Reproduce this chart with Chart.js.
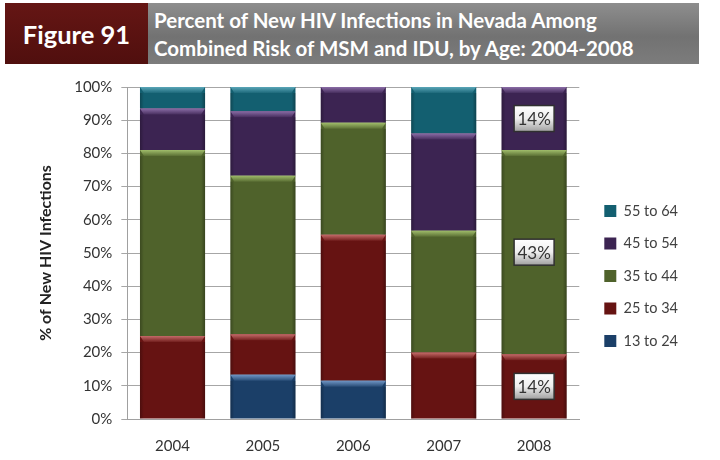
<!DOCTYPE html>
<html>
<head>
<meta charset="utf-8">
<script src="https://cdn.jsdelivr.net/npm/chart.js@4.4.1/dist/chart.umd.min.js"></script>
<style>
  html, body { margin: 0; padding: 0; background: #fff; overflow: hidden; }
  #wrap { position: relative; width: 720px; height: 460px; font-family: Lato, "Open Sans", sans-serif; }
  #fig { position: absolute; left: 5px; top: 3px; width: 143px; height: 61px; background: linear-gradient(#651614, #500f0e);
         color: #fff; font-weight: bold; font-size: 25.5px; line-height: 62px; text-align: center; }
  #ttl { position: absolute; left: 148px; top: 3px; width: 551px; height: 61px; background: linear-gradient(#8e8e8e, #727272 55%, #7c7c7c);
         color: #fff; font-weight: bold; font-size: 20.5px; line-height: 28px; padding: 3px 0 0 6px; box-sizing: border-box; }
  canvas { position: absolute; left: 0; top: 0; }
</style>
</head>
<body>
<div id="wrap">
  <div id="fig">Figure 91</div>
  <div id="ttl">Percent of New HIV Infections in Nevada Among<br>Combined Risk of MSM and IDU, by Age: 2004-2008</div>
  <canvas id="myChart" width="720" height="460"></canvas>
</div>
<script>
const years = ['2004', '2005', '2006', '2007', '2008'];

const age13to24 = [0, 13.3, 11.5, 0, 0];
const age25to34 = [25, 12.2, 44, 20, 19.5];
const age35to44 = [56, 47.8, 33.7, 36.7, 61.5];
const age45to54 = [12.5, 19.4, 10.8, 29.3, 19];
const age55to64 = [6.5, 7.3, 0, 14, 0];

// labels shown only on the 2008 bar
const labels25to34 = ['', '', '', '', '14%'];
const labels35to44 = ['', '', '', '', '43%'];
const labels45to54 = ['', '', '', '', '14%'];

const yTicks = [0, 10, 20, 30, 40, 50, 60, 70, 80, 90, 100];

const ctx = document.getElementById('myChart');
const FONT = 'Lato, "Open Sans", sans-serif';

// bevel look of the Excel bars
const bevel = {
  id: 'bevel',
  afterDatasetsDraw(chart) {
    const c = chart.ctx;
    chart.data.datasets.forEach((ds, i) => {
      const meta = chart.getDatasetMeta(i);
      meta.data.forEach(bar => {
        const p = bar.getProps(['x', 'y', 'base', 'width']);
        const h = p.base - p.y;
        if (h < 1) return;
        const l = p.x - p.width / 2, r = p.x + p.width / 2;
        const b = Math.min(6, h);
        c.save();
        const g = c.createLinearGradient(0, p.y, 0, p.y + 7);
        g.addColorStop(0, ds.hiColor);
        g.addColorStop(1, ds.backgroundColor);
        c.fillStyle = g;
        c.beginPath();
        c.moveTo(l, p.y); c.lineTo(r, p.y); c.lineTo(r - 4, p.y + b); c.lineTo(l + 4, p.y + b);
        c.closePath();
        c.fill();
        const sg = c.createLinearGradient(l, 0, r, 0);
        sg.addColorStop(0, 'rgba(0,0,0,0.25)');
        sg.addColorStop(0.06, 'rgba(0,0,0,0)');
        sg.addColorStop(0.94, 'rgba(0,0,0,0)');
        sg.addColorStop(1, 'rgba(0,0,0,0.3)');
        c.fillStyle = sg;
        c.fillRect(l, p.y + b, p.width, h - b);
        c.restore();
      });
    });
  }
};

const boxLabels = {
  id: 'boxLabels',
  afterDatasetsDraw(chart) {
    const c = chart.ctx;
    chart.data.datasets.forEach((ds, i) => {
      if (!ds.boxLabels) return;
      chart.getDatasetMeta(i).data.forEach((bar, j) => {
        const t = ds.boxLabels[j];
        if (!t) return;
        const cp = bar.getCenterPoint();
        const w = 40, h = 26;
        c.save();
        const g = c.createLinearGradient(0, cp.y - h / 2, 0, cp.y + h / 2);
        g.addColorStop(0, '#ffffff');
        g.addColorStop(0.5, '#eeeeee');
        g.addColorStop(1, '#a0a0a0');
        c.fillStyle = g;
        c.fillRect(cp.x - w / 2, cp.y - h / 2, w, h);
        c.strokeStyle = '#303030';
        c.lineWidth = 1.5;
        c.strokeRect(cp.x - w / 2, cp.y - h / 2, w, h);
        c.fillStyle = '#333';
        c.font = '17px ' + FONT;
        c.textAlign = 'center';
        c.textBaseline = 'middle';
        c.fillText(t, cp.x, cp.y + 1);
        c.restore();
      });
    });
  }
};

const data = {
  labels: years,
  datasets: [
    { label: '13 to 24', data: age13to24, backgroundColor: '#1b3f68', hiColor: '#6f95c4' },
    { label: '25 to 34', data: age25to34, backgroundColor: '#661312', hiColor: '#c46a68', boxLabels: labels25to34 },
    { label: '35 to 44', data: age35to44, backgroundColor: '#4f622b', hiColor: '#9fbc6a', boxLabels: labels35to44 },
    { label: '45 to 54', data: age45to54, backgroundColor: '#3c2452', hiColor: '#8a6ca6', boxLabels: labels45to54 },
    { label: '55 to 64', data: age55to64, backgroundColor: '#135f70', hiColor: '#5aa6b8' }
  ]
};

new Chart(ctx, {
  type: 'bar',
  data: data,
  plugins: [bevel, boxLabels],
  options: {
    responsive: false,
    animation: false,
    layout: { padding: { top: 87, left: 26, right: 32, bottom: -5 } },
    datasets: { bar: { barPercentage: 0.72, categoryPercentage: 1 } },
    plugins: {
      legend: {
        position: 'right',
        reverse: true,
        labels: {
          boxWidth: 12, boxHeight: 12, padding: 18,
          color: '#404040',
          font: { family: FONT, size: 14.5 }
        }
      },
      tooltip: { enabled: false }
    },
    scales: {
      x: {
        stacked: true,
        grid: { display: false },
        border: { color: '#a0a0a0' },
        ticks: { color: '#333', padding: 10, font: { family: FONT, size: 15 } }
      },
      y: {
        stacked: true,
        min: 0, max: 100,
        afterBuildTicks: axis => { axis.ticks = yTicks.map(v => ({ value: v })); },
        grid: { color: '#a6a6a6', tickLength: 6 },
        border: { color: '#a0a0a0' },
        ticks: {
          color: '#333', padding: 9,
          font: { family: FONT, size: 15 },
          callback: v => v + '%'
        },
        title: {
          display: true, text: '% of New HIV Infections', color: '#222',
          font: { family: FONT, size: 16, weight: 'bold' }, padding: 10
        }
      },
      gap: {
        position: 'right',
        display: true,
        grid: { display: false },
        border: { display: false },
        ticks: { display: false },
        afterFit: s => { s.width = 7; }
      }
    }
  }
});
</script>
</body>
</html>
